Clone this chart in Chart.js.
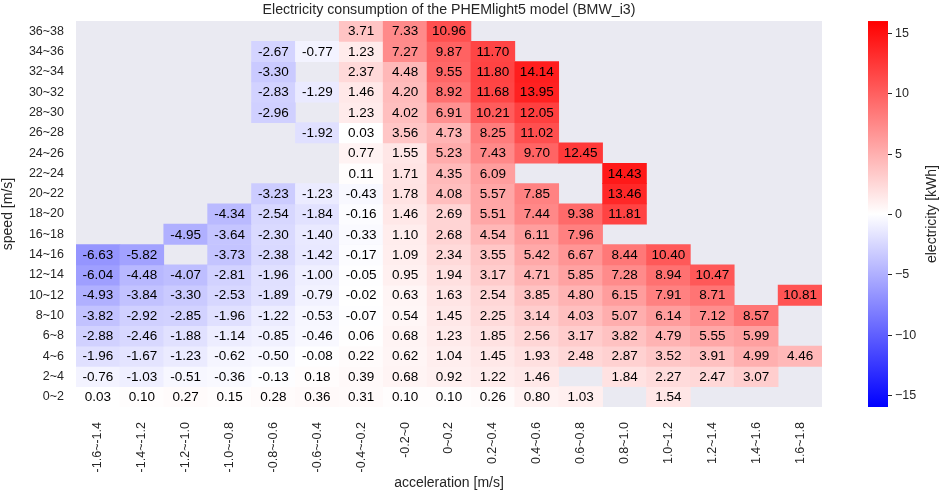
<!DOCTYPE html>
<html>
<head>
<meta charset="utf-8">
<title>PHEMlight5 BMW_i3 electricity heatmap</title>
<script src="https://cdn.jsdelivr.net/npm/chart.js@4.4.1/dist/chart.umd.min.js"></script>
<style>
    html, body { margin: 0; padding: 0; background: #ffffff; }
    #heat { display: block; }
</style>
</head>
<body>
<canvas id="heat" width="939" height="495"></canvas>
<script>
// Acceleration bins (columns) and speed bins (rows, top to bottom as drawn)
const accelBins = ['-1.6~-1.4', '-1.4~-1.2', '-1.2~-1.0', '-1.0~-0.8', '-0.8~-0.6', '-0.6~-0.4',
    '-0.4~-0.2', '-0.2~0', '0~0.2', '0.2~0.4', '0.4~0.6', '0.6~0.8', '0.8~1.0',
    '1.0~1.2', '1.2~1.4', '1.4~1.6', '1.6~1.8'];
const speedBins = ['36~38', '34~36', '32~34', '30~32', '28~30', '26~28', '24~26', '22~24', '20~22',
    '18~20', '16~18', '14~16', '12~14', '10~12', '8~10', '6~8', '4~6', '2~4', '0~2'];

// Electricity [kWh] per cell, one row per speed bin, null = no data
const N = null;
const energy = [
    [N, N, N, N, N, N, 3.71, 7.33, 10.96, N, N, N, N, N, N, N, N],
    [N, N, N, N, -2.67, -0.77, 1.23, 7.27, 9.87, 11.70, N, N, N, N, N, N, N],
    [N, N, N, N, -3.30, N, 2.37, 4.48, 9.55, 11.80, 14.14, N, N, N, N, N, N],
    [N, N, N, N, -2.83, -1.29, 1.46, 4.20, 8.92, 11.68, 13.95, N, N, N, N, N, N],
    [N, N, N, N, -2.96, N, 1.23, 4.02, 6.91, 10.21, 12.05, N, N, N, N, N, N],
    [N, N, N, N, N, -1.92, 0.03, 3.56, 4.73, 8.25, 11.02, N, N, N, N, N, N],
    [N, N, N, N, N, N, 0.77, 1.55, 5.23, 7.43, 9.70, 12.45, N, N, N, N, N],
    [N, N, N, N, N, N, 0.11, 1.71, 4.35, 6.09, N, N, 14.43, N, N, N, N],
    [N, N, N, N, -3.23, -1.23, -0.43, 1.78, 4.08, 5.57, 7.85, N, 13.46, N, N, N, N],
    [N, N, N, -4.34, -2.54, -1.84, -0.16, 1.46, 2.69, 5.51, 7.44, 9.38, 11.81, N, N, N, N],
    [N, N, -4.95, -3.64, -2.30, -1.40, -0.33, 1.10, 2.68, 4.54, 6.11, 7.96, N, N, N, N, N],
    [-6.63, -5.82, N, -3.73, -2.38, -1.42, -0.17, 1.09, 2.34, 3.55, 5.42, 6.67, 8.44, 10.40, N, N, N],
    [-6.04, -4.48, -4.07, -2.81, -1.96, -1.00, -0.05, 0.95, 1.94, 3.17, 4.71, 5.85, 7.28, 8.94, 10.47, N, N],
    [-4.93, -3.84, -3.30, -2.53, -1.89, -0.79, -0.02, 0.63, 1.63, 2.54, 3.85, 4.80, 6.15, 7.91, 8.71, N, 10.81],
    [-3.82, -2.92, -2.85, -1.96, -1.22, -0.53, -0.07, 0.54, 1.45, 2.25, 3.14, 4.03, 5.07, 6.14, 7.12, 8.57, N],
    [-2.88, -2.46, -1.88, -1.14, -0.85, -0.46, 0.06, 0.68, 1.23, 1.85, 2.56, 3.17, 3.82, 4.79, 5.55, 5.99, N],
    [-1.96, -1.67, -1.23, -0.62, -0.50, -0.08, 0.22, 0.62, 1.04, 1.45, 1.93, 2.48, 2.87, 3.52, 3.91, 4.99, 4.46],
    [-0.76, -1.03, -0.51, -0.36, -0.13, 0.18, 0.39, 0.68, 0.92, 1.22, 1.46, N, 1.84, 2.27, 2.47, 3.07, N],
    [0.03, 0.10, 0.27, 0.15, 0.28, 0.36, 0.31, 0.10, 0.10, 0.26, 0.80, 1.03, N, 1.54, N, N, N]
];

// Colour bar range and its tick values
const colorLimit = 16;
const colorTicks = [15, 10, 5, 0, -5, -10, -15];

const FONT = "'Liberation Sans', Arial, sans-serif";
const INK = '#262626';
const nRows = speedBins.length;

// matplotlib 'bwr' colormap: blue -> white -> red
const bwr = (v) => {
    const t = Math.max(0, Math.min(1, (v + colorLimit) / (2 * colorLimit)));
    let r, g, b;
    if (t < 0.5) { r = g = 2 * t; b = 1; }
    else { r = 1; g = b = 2 * (1 - t); }
    return `rgb(${Math.round(r * 255)},${Math.round(g * 255)},${Math.round(b * 255)})`;
};

// One floating-bar dataset per speed row, spanning [row, row + 1] on the y scale
const datasets = energy.map((row, i) => {
    const y0 = nRows - 1 - i;
    return {
        label: speedBins[i],
        data: row.map(v => v === null ? null : [y0, y0 + 1]),
        cellValues: row,
        backgroundColor: row.map(v => v === null ? 'rgba(0,0,0,0)' : bwr(v)),
        borderWidth: 0,
        grouped: false,
        barPercentage: 1,
        categoryPercentage: 1
    };
});

const backdrop = {
    id: 'backdrop',
    beforeDatasetsDraw: (chart) => {
        const { ctx, chartArea: a } = chart;
        ctx.save();
        ctx.fillStyle = '#eaeaf2';
        ctx.fillRect(a.left, a.top, a.right - a.left, a.bottom - a.top);
        ctx.restore();
    }
};

const cellText = {
    id: 'cellText',
    afterDatasetsDraw: (chart) => {
        const ctx = chart.ctx;
        ctx.save();
        ctx.font = `13.5px ${FONT}`;
        ctx.fillStyle = '#000000';
        ctx.textAlign = 'center';
        ctx.textBaseline = 'middle';
        chart.data.datasets.forEach((ds, d) => {
            chart.getDatasetMeta(d).data.forEach((bar, c) => {
                const v = ds.cellValues[c];
                if (v === null) return;
                const p = bar.getCenterPoint();
                ctx.fillText(v.toFixed(2), p.x, p.y + 0.5);
            });
        });
        ctx.restore();
    }
};

const colorBar = {
    id: 'colorBar',
    afterDraw: (chart) => {
        const { ctx, chartArea: a } = chart;
        const s = chart.scales.cb;
        const x0 = a.right + 46, w = 20;
        const top = s.getPixelForValue(colorLimit), bot = s.getPixelForValue(-colorLimit);
        ctx.save();
        const g = ctx.createLinearGradient(0, bot, 0, top);
        g.addColorStop(0, bwr(-colorLimit));
        g.addColorStop(0.5, bwr(0));
        g.addColorStop(1, bwr(colorLimit));
        ctx.fillStyle = g;
        ctx.fillRect(x0, top, w, bot - top);

        ctx.strokeStyle = INK;
        ctx.fillStyle = INK;
        ctx.lineWidth = 1;
        ctx.font = `12.5px ${FONT}`;
        ctx.textAlign = 'left';
        ctx.textBaseline = 'middle';
        colorTicks.forEach(v => {
            const y = Math.round(s.getPixelForValue(v)) + 0.5;
            ctx.beginPath();
            ctx.moveTo(x0 + w, y);
            ctx.lineTo(x0 + w + 4, y);
            ctx.stroke();
            ctx.fillText(v < 0 ? '\u2212' + Math.abs(v) : String(v), x0 + w + 7, y);
        });

        ctx.font = `14px ${FONT}`;
        ctx.textAlign = 'center';
        ctx.translate(932, (top + bot) / 2);
        ctx.rotate(-Math.PI / 2);
        ctx.fillText('electricity [kWh]', 0, 0);
        ctx.restore();
    }
};

const tickFont = { family: FONT, size: 12.5 };
const titleFont = { family: FONT, size: 14 };

new Chart(document.getElementById('heat'), {
    type: 'bar',
    data: { labels: accelBins, datasets },
    options: {
        responsive: false,
        animation: false,
        layout: { padding: { left: 0, right: 117, top: 0, bottom: 0 } },
        plugins: {
            legend: { display: false },
            tooltip: { enabled: false },
            title: {
                display: true,
                fullSize: false,
                text: 'Electricity consumption of the PHEMlight5 model (BMW_i3)',
                color: INK,
                font: { family: FONT, size: 14.2, weight: 'normal' },
                padding: { top: 2, bottom: 2 }
            }
        },
        scales: {
            x: {
                type: 'category',
                grid: { display: false, drawTicks: false },
                border: { display: false },
                ticks: {
                    autoSkip: false, minRotation: 90, maxRotation: 90,
                    padding: 15, color: INK, font: tickFont
                },
                title: {
                    display: true, text: 'acceleration [m/s]', color: INK,
                    font: titleFont, padding: { top: 0, bottom: 3 }
                },
                afterFit: (s) => { s.height = 88; }
            },
            y: {
                type: 'linear',
                min: 0,
                max: nRows,
                afterBuildTicks: (s) => {
                    s.ticks = speedBins.map((_, i) => ({ value: nRows - 1 - i + 0.5 }));
                },
                grid: { display: false, drawTicks: false },
                border: { display: false },
                ticks: {
                    autoSkip: false, padding: 12, color: INK, font: tickFont,
                    callback: (v) => speedBins[nRows - 1 - Math.floor(v)]
                },
                title: {
                    display: true, text: 'speed [m/s]', color: INK,
                    font: titleFont, padding: { top: 0, bottom: 4 }
                },
                afterFit: (s) => { s.width = 76; }
            },
            cb: {
                type: 'linear',
                display: false,
                position: 'right',
                min: -colorLimit,
                max: colorLimit
            }
        }
    },
    plugins: [backdrop, cellText, colorBar]
});
</script>
</body>
</html>
